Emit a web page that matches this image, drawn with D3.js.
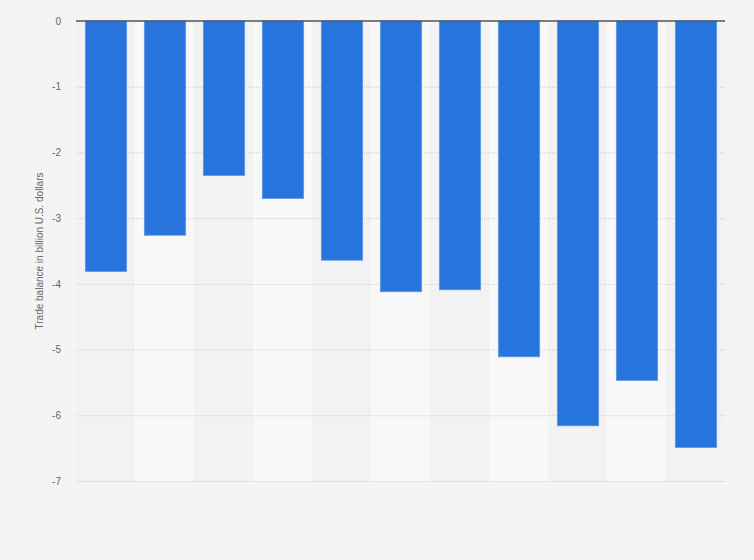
<!DOCTYPE html>
<html>
<head>
<meta charset="utf-8">
<script src="https://cdn.jsdelivr.net/npm/d3@7"></script>
<style>
  body { margin: 0; background: #f4f4f4; }
  svg { display: block; }
</style>
</head>
<body>
<div id="chart"></div>
<script>
// values, billion U.S. dollars
var categories = ["2008", "2009", "2010", "2011", "2012", "2013", "2014", "2015", "2016", "2017", "2018"];
var balance = [-3.81, -3.26, -2.35, -2.70, -3.64, -4.12, -4.09, -5.11, -6.16, -5.47, -6.49];
var yTicks = [0, -1, -2, -3, -4, -5, -6, -7];

var width = 754, height = 560;
var margin = {top: 21, right: 29, bottom: 79, left: 76};

var svg = d3.select('#chart').append('svg')
  .attr('width', width)
  .attr('height', height);

svg.append('rect')
  .attr('width', width)
  .attr('height', height)
  .attr('fill', '#f4f4f4');

var x = d3.scaleBand()
  .domain(categories)
  .range([margin.left, width - margin.right])
  .paddingInner(0.3)
  .paddingOuter(0.15);

var y = d3.scaleLinear()
  .domain([0, -7])
  .range([margin.top, height - margin.bottom]);

// alternating column shading
var step = x.step();
svg.append('g').selectAll('rect')
  .data(categories)
  .enter().append('rect')
  .attr('x', function(d) { return x(d) - step * 0.15; })
  .attr('y', y(0))
  .attr('width', step)
  .attr('height', y(-7) - y(0))
  .attr('fill', function(d, i) { return i % 2 ? '#f8f8f8' : '#f2f2f2'; });

// grid
svg.append('g').selectAll('line')
  .data(yTicks.filter(function(t) { return t !== 0; }))
  .enter().append('line')
  .attr('x1', margin.left)
  .attr('x2', width - margin.right)
  .attr('y1', function(d) { return y(d) + 0.5; })
  .attr('y2', function(d) { return y(d) + 0.5; })
  .attr('stroke', '#cfcfcf')
  .attr('stroke-dasharray', '1,1');

var yAxis = svg.append('g')
  .attr('transform', 'translate(' + margin.left + ',0)')
  .call(d3.axisLeft(y).tickValues(yTicks).tickSize(0).tickPadding(15).tickFormat(function(d) { return String(d); }));
yAxis.select('.domain').remove();
yAxis.selectAll('text')
  .attr('fill', '#666')
  .style('font-family', 'Liberation Sans, Arial, sans-serif')
  .style('font-size', '10px');

svg.append('g').selectAll('rect')
  .data(balance)
  .enter().append('rect')
  .attr('x', function(d, i) { return x(categories[i]) + 0.5; })
  .attr('y', y(0))
  .attr('width', x.bandwidth())
  .attr('height', function(d) { return y(d) - y(0); })
  .attr('fill', '#2775dc')
  .attr('stroke', '#5d97e6')
  .attr('stroke-width', 0.8);

// zero line
svg.append('line')
  .attr('x1', margin.left)
  .attr('x2', width - margin.right)
  .attr('y1', y(0))
  .attr('y2', y(0))
  .attr('stroke', '#555')
  .attr('stroke-width', 1.3);

svg.append('text')
  .attr('transform', 'translate(43,' + (y(-3.5)) + ') rotate(-90)')
  .attr('text-anchor', 'middle')
  .attr('fill', '#666')
  .style('font-family', 'Liberation Sans, Arial, sans-serif')
  .style('font-size', '10px')
  .text('Trade balance in billion U.S. dollars');
</script>
</body>
</html>
